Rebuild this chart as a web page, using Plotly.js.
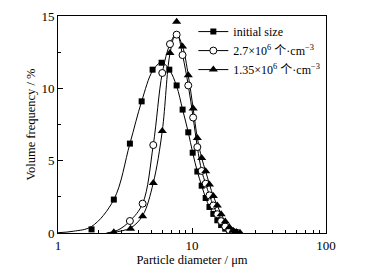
<!DOCTYPE html>
<html>
<head>
<meta charset="utf-8">
<script src="https://cdn.plot.ly/plotly-3.0.1.min.js"></script>
<style>html,body{margin:0;padding:0;background:#fff;}#chart{width:368px;height:275px;}</style>
</head>
<body>
<div id="chart"></div>
<script>
// Measured points: particle diameter (µm) vs volume frequency (%)
var initialX = [1.78, 2.61, 3.44, 4.21, 5.08, 5.93, 6.77, 7.68, 8.51, 9.38, 10.12, 10.96, 11.81, 12.65, 13.5, 14.43, 15.45, 16.5, 17.7, 19.0, 20.3];
var initialY = [0.25, 2.31, 6.18, 9.1, 11.29, 11.77, 11.29, 10.2, 8.53, 6.96, 5.55, 4.25, 3.27, 2.42, 1.8, 1.32, 0.88, 0.55, 0.3, 0.12, 0.03];

var midX = [3.44, 4.28, 5.14, 6.0, 6.85, 7.68, 8.5, 9.38, 10.2, 10.96, 11.81, 12.65, 13.5, 14.43, 15.45, 16.5, 17.7, 19.0, 20.3, 21.5];
var midY = [0.83, 2.03, 6.08, 11.06, 13.06, 13.71, 12.3, 10.2, 7.98, 5.94, 4.29, 3.41, 2.6, 1.9, 1.3, 0.82, 0.45, 0.2, 0.07, 0.02];

var lowX = [2.61, 3.48, 4.28, 5.14, 6.0, 6.85, 7.68, 8.5, 9.38, 10.2, 10.96, 11.81, 12.65, 13.5, 14.43, 15.45, 16.5, 17.7, 19.0, 20.3, 21.5, 22.8];
var lowY = [0.05, 0.3, 1.15, 3.46, 7.05, 12.44, 14.6, 12.9, 10.9, 8.6, 6.57, 5.18, 4.26, 3.36, 2.55, 1.9, 1.3, 0.8, 0.4, 0.15, 0.05, 0.02];

// Fitted curves drawn through the points
var initialCurveX = [1.0, 1.3, 1.78, 2.61, 3.44, 4.21, 5.08, 5.93, 6.77, 7.68, 8.51, 9.38, 10.12, 10.96, 11.81, 12.65, 13.5, 14.43, 15.45, 16.5, 17.7, 19.0, 20.3];
var initialCurveY = [0.02, 0.12, 0.45, 2.31, 6.18, 9.1, 11.2, 11.8, 11.29, 10.15, 8.53, 6.96, 5.55, 4.25, 3.27, 2.42, 1.8, 1.32, 0.88, 0.55, 0.3, 0.12, 0.03];

var midCurveX = [2.3, 2.8, 3.44, 4.28, 5.14, 6.0, 6.85, 7.68, 8.5, 9.38, 10.2, 10.96, 11.81, 12.65, 13.5, 14.43, 15.45, 16.5, 17.7, 19.0, 20.3, 21.5];
var midCurveY = [0.0, 0.2, 0.83, 2.03, 6.08, 11.06, 13.06, 13.8, 12.3, 10.2, 7.98, 5.94, 4.29, 3.41, 2.6, 1.9, 1.3, 0.82, 0.45, 0.2, 0.07, 0.02];

var lowCurveX = [2.4, 2.61, 3.48, 4.28, 5.14, 6.0, 6.85, 7.6, 8.5, 9.38, 10.2, 10.96, 11.81, 12.65, 13.5, 14.43, 15.45, 16.5, 17.7, 19.0, 20.3, 21.5, 22.8];
var lowCurveY = [0.0, 0.05, 0.35, 1.2, 3.46, 7.05, 12.4, 13.8, 12.9, 10.9, 8.6, 6.57, 5.18, 4.26, 3.36, 2.55, 1.9, 1.3, 0.8, 0.4, 0.15, 0.05, 0.02];

var seriesNames = ['initial size', '2.7×10<sup>6</sup> 个·cm<sup>−3</sup>', '1.35×10<sup>6</sup> 个·cm<sup>−3</sup>'];
var xTickVals = [1, 10, 100];
var xTickText = ['1', '10', '100'];
var xMinorVals = [2,3,4,5,6,7,8,9,20,30,40,50,60,70,80,90];

var serif = '"Liberation Serif", "Times New Roman", "Noto Sans CJK SC", serif';
var lineStyle = {color: '#000', width: 1, shape: 'spline', smoothing: 1};

function curve(x, y) {
  return {x: x, y: y, mode: 'lines', line: lineStyle, showlegend: false, hoverinfo: 'skip'};
}
function legendOnly(name, marker) {
  return {x: [null], y: [null], mode: 'lines+markers', name: name,
          line: {color: '#000', width: 1}, marker: marker};
}

var mSquare = {symbol: 'square', size: 6, color: '#000'};
var mCircle = {symbol: 'circle', size: 7, color: '#fff', line: {color: '#000', width: 1}};
var mTri = {symbol: 'triangle-up', size: 8, color: '#000'};

var data = [
  curve(initialCurveX, initialCurveY),
  curve(midCurveX, midCurveY),
  curve(lowCurveX, lowCurveY),
  {x: initialX, y: initialY, mode: 'markers', marker: mSquare, showlegend: false},
  {x: midX, y: midY, mode: 'markers', marker: mCircle, showlegend: false},
  {x: lowX, y: lowY, mode: 'markers', marker: mTri, showlegend: false},
  legendOnly(seriesNames[0], mSquare),
  legendOnly(seriesNames[1], mCircle),
  legendOnly(seriesNames[2], mTri)
];

var layout = {
  width: 368, height: 275,
  margin: {l: 58, r: 42, t: 16, b: 42},
  paper_bgcolor: '#fff', plot_bgcolor: '#fff',
  font: {family: serif, size: 13, color: '#000'},
  showlegend: true,
  legend: {x: 0.505, y: 0.995, xanchor: 'left', yanchor: 'top', bgcolor: 'rgba(0,0,0,0)',
           font: {family: serif, size: 12, color: '#000'}, tracegroupgap: 0, itemwidth: 30},
  xaxis: {
    type: 'log', range: [0, 2], tickvals: xTickVals, ticktext: xTickText,
    ticks: 'inside', ticklen: 5, tickwidth: 1, tickcolor: '#000',
    minor: {tickvals: xMinorVals, ticks: 'inside', ticklen: 3, tickwidth: 1, tickcolor: '#000', showgrid: false},
    showline: true, linecolor: '#000', linewidth: 1, mirror: true,
    showgrid: false, zeroline: false,
    tickfont: {family: serif, size: 13, color: '#000'},
    title: {text: 'Particle diameter / μm', font: {family: serif, size: 12.5, color: '#000'}, standoff: 0}
  },
  yaxis: {
    range: [0, 15], dtick: 5, tick0: 0,
    ticks: 'inside', ticklen: 5, tickwidth: 1, tickcolor: '#000',
    minor: {dtick: 2.5, ticks: 'inside', ticklen: 3, tickwidth: 1, tickcolor: '#000', showgrid: false},
    showline: true, linecolor: '#000', linewidth: 1, mirror: true,
    showgrid: false, zeroline: false,
    tickfont: {family: serif, size: 13, color: '#000'},
    title: {text: 'Volume frequency / %', font: {family: serif, size: 12.5, color: '#000'}, standoff: 3}
  }
};

Plotly.newPlot('chart', data, layout, {staticPlot: true, displayModeBar: false});
</script>
</body>
</html>
